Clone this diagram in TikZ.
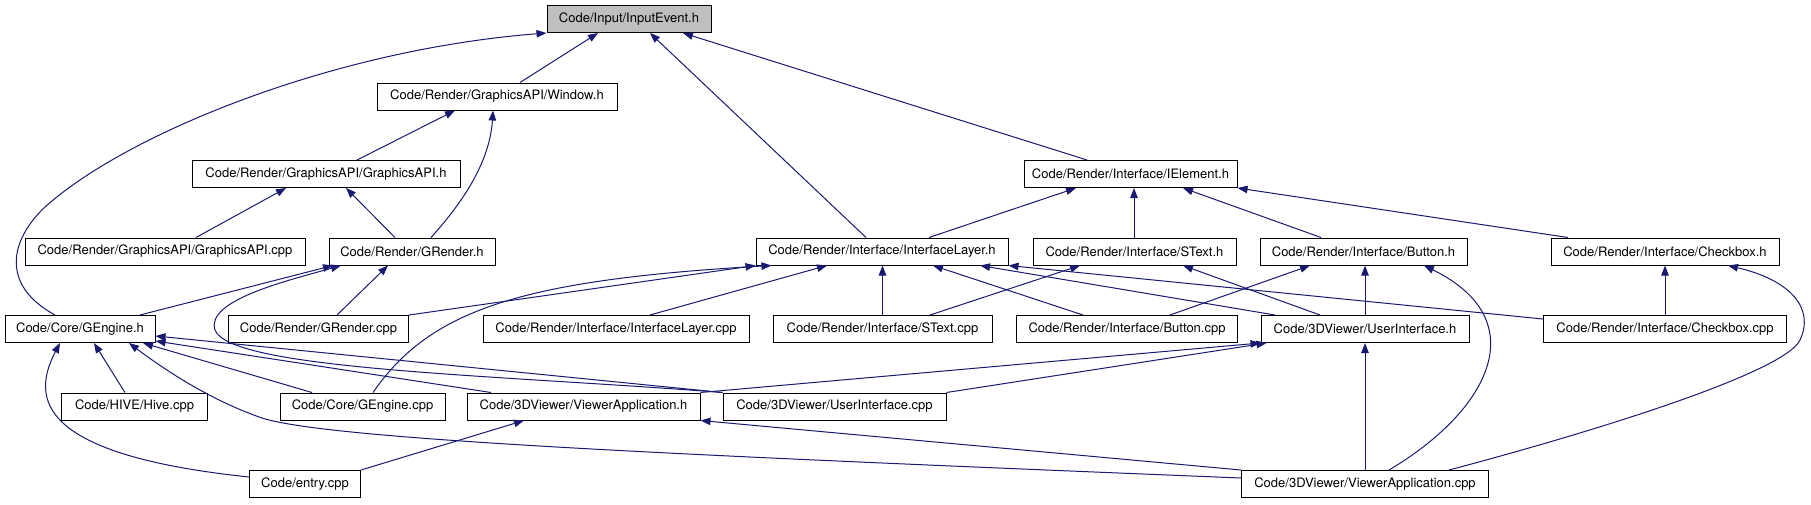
\documentclass[tikz,border=0pt]{standalone}
\usepackage{fontspec}
\setmainfont{TeX Gyre Heros}
\usepackage{xcolor}
\definecolor{edgeblue}{HTML}{191970}
\definecolor{rootgray}{HTML}{BFBFBF}
\usetikzlibrary{arrows.meta}

\begin{document}
\begin{tikzpicture}[x=1pt, y=-1pt, >={Triangle[length=10pt,width=7.5pt]},
		font=\fontsize{13}{15}\selectfont,
		file/.style={draw, line width=1pt, fill=white, minimum height=27pt, inner sep=0pt},
		dep/.style={->, edgeblue, line width=1pt}]
		\useasboundingbox (0,0) rectangle (1811,504);

		\node[file, fill=rootgray, minimum width=164] (InEv) at (629,19) {Code/Input/InputEvent.h};

		\node[file, minimum width=240] (Win) at (497,96.5) {Code/Render/GraphicsAPI/Window.h};

		\node[file, minimum width=268] (GApiH) at (326,174) {Code/Render/GraphicsAPI/GraphicsAPI.h};
		\node[file, minimum width=213] (IElem) at (1130.5,174) {Code/Render/Interface/IElement.h};

		\node[file, minimum width=280] (GApiC) at (165,251.5) {Code/Render/GraphicsAPI/GraphicsAPI.cpp};
		\node[file, minimum width=166] (GRenH) at (412,251.5) {Code/Render/GRender.h};
		\node[file, minimum width=252] (ILayH) at (882,251.5) {Code/Render/Interface/InterfaceLayer.h};
		\node[file, minimum width=203] (STxtH) at (1134.5,251.5) {Code/Render/Interface/SText.h};
		\node[file, minimum width=207] (BtnH) at (1363.5,251.5) {Code/Render/Interface/Button.h};
		\node[file, minimum width=228] (ChkH) at (1665,251.5) {Code/Render/Interface/Checkbox.h};

		\node[file, minimum width=150] (GEngH) at (80,329) {Code/Core/GEngine.h};
		\node[file, minimum width=180] (GRenC) at (318.5,329) {Code/Render/GRender.cpp};
		\node[file, minimum width=266] (ILayC) at (616,329) {Code/Render/Interface/InterfaceLayer.cpp};
		\node[file, minimum width=219] (STxtC) at (882.5,329) {Code/Render/Interface/SText.cpp};
		\node[file, minimum width=221] (BtnC) at (1127,329) {Code/Render/Interface/Button.cpp};
		\node[file, minimum width=208] (UiH) at (1365,329) {Code/3DViewer/UserInterface.h};
		\node[file, minimum width=243] (ChkC) at (1665,329) {Code/Render/Interface/Checkbox.cpp};

		\node[file, minimum width=146] (Hive) at (134.5,406.5) {Code/HIVE/Hive.cpp};
		\node[file, minimum width=165] (GEngC) at (362.5,406.5) {Code/Core/GEngine.cpp};
		\node[file, minimum width=233] (VAppH) at (583.5,406.5) {Code/3DViewer/ViewerApplication.h};
		\node[file, minimum width=223] (UiC) at (834.5,406.5) {Code/3DViewer/UserInterface.cpp};

		\node[file, minimum width=111] (Entry) at (305,484) {Code/entry.cpp};
		\node[file, minimum width=247] (VAppC) at (1365,484) {Code/3DViewer/ViewerApplication.cpp};

		\draw[dep] ([xshift=-25]GEngH.north) .. controls (0,285) and (10,240) .. (45,207) .. controls (125,135) and (330,50) .. (InEv.south west);
		\draw[dep] ([xshift=23]Win.north) -- ([xshift=-31]InEv.south);
		\draw[dep] ([xshift=-16]ILayH.north) -- ([xshift=21]InEv.south);
		\draw[dep] ([xshift=-43.5]IElem.north) -- ([xshift=54]InEv.south);

		\draw[dep] ([xshift=31]GApiH.north) -- ([xshift=-42]Win.south);
		\draw[dep] ([xshift=19]GRenH.north) .. controls (465,200) and (490,160) .. ([xshift=-4]Win.south);

		\draw[dep] ([xshift=31]GApiC.north) -- ([xshift=-40]GApiH.south);
		\draw[dep] ([xshift=-17]GRenH.north) -- ([xshift=20]GApiH.south);
		\draw[dep] ([xshift=47]ILayH.north) -- ([xshift=-54.5]IElem.south);
		\draw[dep] ([xshift=-0.5]STxtH.north) -- ([xshift=3.5]IElem.south);
		\draw[dep] ([xshift=-42.5]BtnH.north) -- ([xshift=52.5]IElem.south);
		\draw[dep] ([xshift=-97]ChkH.north) -- (IElem.south east);

		\draw[dep] ([xshift=60]GEngH.north) -- ([xshift=-79]GRenH.south);
		\draw[dep] ([xshift=18.5]GRenC.north) -- ([xshift=-24]GRenH.south);
		\draw[dep] (UiC.north west) .. controls (500,375) and (230,370) .. (215,330) .. controls (205,300) and (290,280) .. ([xshift=-71]GRenH.south);

		\draw[dep] (GRenC.north east) -- (ILayH.south west);
		\draw[dep] ([xshift=10.5]GEngC.north) .. controls (430,310) and (520,280) .. ([xshift=16]ILayH.south west);
		\draw[dep] ([xshift=34]ILayC.north) -- ([xshift=-55]ILayH.south);
		\draw[dep] (STxtC.north) -- (STxtC.north |- ILayH.south);
		\draw[dep] ([xshift=-44]BtnC.north) -- ([xshift=51]ILayH.south);
		\draw[dep] ([xshift=-90]UiH.north) -- ([xshift=98]ILayH.south);
		\draw[dep] ([yshift=-4]ChkC.north west) -- (ILayH.south east);

		\draw[dep] ([xshift=47.5]STxtC.north) -- ([xshift=-54.5]STxtH.south);
		\draw[dep] ([xshift=-45]UiH.north) -- ([xshift=48.5]STxtH.south);
		\draw[dep] ([xshift=43]BtnC.north) -- ([xshift=-53.5]BtnH.south);
		\draw[dep] (UiH.north) -- (UiH.north |- BtnH.south);
		\draw[dep] ([xshift=24]VAppC.north) .. controls (1490,410) and (1535,320) .. ([xshift=60.5]BtnH.south);
		\draw[dep] (ChkC.north) -- (ChkH.south);
		\draw[dep] ([xshift=84]VAppC.north) .. controls (1600,430) and (1785,372) .. (1800,340) .. controls (1815,308) and (1790,280) .. ([xshift=63]ChkH.south);

		\draw[dep] ([xshift=-9.5]Hive.north) -- ([xshift=14]GEngH.south);
		\draw[dep] ([xshift=-50.5]GEngC.north) -- ([xshift=63]GEngH.south);
		\draw[dep] ([xshift=-92.5]VAppH.north) -- ([yshift=2]GEngH.south east);
		\draw[dep] (UiC.north west) -- ([yshift=7]GEngH.south east);
		\draw[dep] ([yshift=6]VAppC.west) .. controls (700,456) and (330,440) .. (262,418) .. controls (210,400) and (165,370) .. ([xshift=49]GEngH.south);
		\draw[dep] ([yshift=7]Entry.west) .. controls (40,455) and (30,400) .. ([xshift=-20]GEngH.south);

		\draw[dep] (VAppH.north east) -- (UiH.south west);
		\draw[dep] (UiC.north east) -- ([xshift=6]UiH.south west);
		\draw[dep] (VAppC.north) -- (UiH.south);

		\draw[dep] (Entry.north east) -- ([xshift=-59.5]VAppH.south);
		\draw[dep] (VAppC.north west) -- (VAppH.south east);
	\end{tikzpicture}
\end{document}
